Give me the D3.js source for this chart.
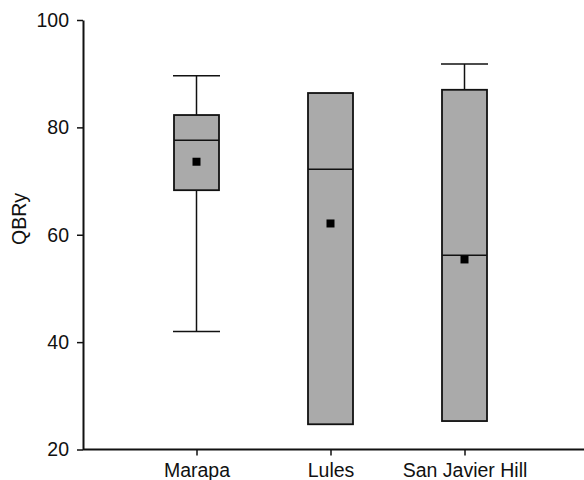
<!DOCTYPE html>
<html>
<head>
<meta charset="utf-8">
<script src="https://cdn.jsdelivr.net/npm/d3@7"></script>
<style>
  body { margin: 0; background: #fff; }
  svg text { font-family: "Liberation Sans", Arial, sans-serif; fill: #111; }
</style>
</head>
<body>
<svg id="chart"></svg>
<script>
const categories = ['Marapa', 'Lules', 'San Javier Hill'];
const whiskerLow = [42.0, 24.7, 25.3];
const q1 = [68.3, 24.7, 25.3];
const median = [77.6, 72.2, 56.2];
const q3 = [82.3, 86.4, 87.0];
const whiskerHigh = [89.6, 86.4, 91.8];
const means = [73.6, 62.1, 55.4];
const yTicks = [20, 40, 60, 80, 100];

const width = 584;
const height = 480;
const left = 83;

const data = categories.map((c, i) => ({
  name: c, lo: whiskerLow[i], q1: q1[i], med: median[i],
  q3: q3[i], hi: whiskerHigh[i], mean: means[i]
}));

const svg = d3.select('#chart')
  .attr('width', width)
  .attr('height', height);

const x = d3.scalePoint()
  .domain(categories)
  .range([196.5, 464.5]);

const y = d3.scaleLinear()
  .domain([20, 100])
  .range([449.5, 20]);

const boxW = 45;
const capW = 47;

const g = svg.selectAll('g.box')
  .data(data)
  .enter().append('g')
  .attr('class', 'box');

// whiskers (only where they stick out of the box)
g.filter(d => d.hi > d.q3).append('line')
  .attr('x1', d => x(d.name)).attr('x2', d => x(d.name))
  .attr('y1', d => y(d.hi)).attr('y2', d => y(d.q3))
  .attr('stroke', '#111').attr('stroke-width', 1.5);
g.filter(d => d.hi > d.q3).append('line')
  .attr('x1', d => x(d.name) - capW / 2).attr('x2', d => x(d.name) + capW / 2)
  .attr('y1', d => y(d.hi)).attr('y2', d => y(d.hi))
  .attr('stroke', '#111').attr('stroke-width', 1.5);
g.filter(d => d.lo < d.q1).append('line')
  .attr('x1', d => x(d.name)).attr('x2', d => x(d.name))
  .attr('y1', d => y(d.q1)).attr('y2', d => y(d.lo))
  .attr('stroke', '#111').attr('stroke-width', 1.5);
g.filter(d => d.lo < d.q1).append('line')
  .attr('x1', d => x(d.name) - capW / 2).attr('x2', d => x(d.name) + capW / 2)
  .attr('y1', d => y(d.lo)).attr('y2', d => y(d.lo))
  .attr('stroke', '#111').attr('stroke-width', 1.5);

// box
g.append('rect')
  .attr('x', d => x(d.name) - boxW / 2)
  .attr('width', boxW)
  .attr('y', d => y(d.q3))
  .attr('height', d => y(d.q1) - y(d.q3))
  .attr('fill', '#aaaaaa')
  .attr('stroke', '#111')
  .attr('stroke-width', 1.8);

// median
g.append('line')
  .attr('x1', d => x(d.name) - boxW / 2).attr('x2', d => x(d.name) + boxW / 2)
  .attr('y1', d => y(d.med)).attr('y2', d => y(d.med))
  .attr('stroke', '#111').attr('stroke-width', 1.5);

// mean marker
g.append('rect')
  .attr('x', d => x(d.name) - 4)
  .attr('y', d => y(d.mean) - 4)
  .attr('width', 8).attr('height', 8)
  .attr('fill', '#000');

// y axis
const yAxis = svg.append('g')
  .attr('transform', `translate(${left},0)`)
  .call(d3.axisLeft(y).tickValues(yTicks).tickSize(6).tickSizeOuter(0).tickPadding(4));
yAxis.select('.domain').attr('stroke', '#111').attr('stroke-width', 2);
yAxis.selectAll('.tick line').attr('stroke', '#111').attr('stroke-width', 1.5);
yAxis.selectAll('.tick text').attr('font-size', 19.5).attr('dx', -4);

// x axis
const xAxis = svg.append('g')
  .attr('transform', `translate(0,${y(20)})`)
  .call(d3.axisBottom(x).tickSize(6).tickSizeOuter(0).tickPadding(8));
xAxis.select('.domain').remove();
xAxis.append('line')
  .attr('x1', left).attr('x2', width)
  .attr('y1', 0).attr('y2', 0)
  .attr('stroke', '#111').attr('stroke-width', 2);
xAxis.selectAll('.tick line').attr('stroke', '#111').attr('stroke-width', 1.5);
xAxis.selectAll('.tick text').attr('font-size', 19.5);

svg.selectAll('.tick text').style('fill', '#111');

// y label
svg.append('text')
  .attr('transform', 'translate(26,219) rotate(-90)')
  .attr('text-anchor', 'middle')
  .attr('font-size', 19.5)
  .text('QBRy');
</script>
</body>
</html>
